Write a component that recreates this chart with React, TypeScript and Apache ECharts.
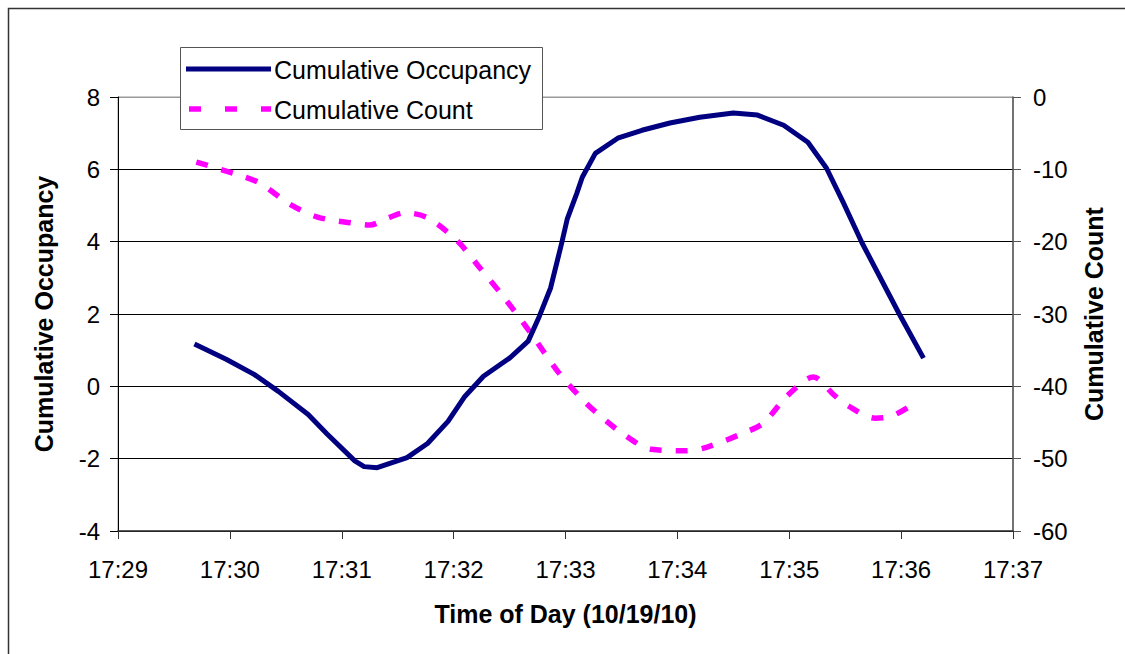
import React, { useEffect, useRef } from "react";
import * as echarts from "echarts";

const occTimes = [
  "17:29:41", "17:29:58", "17:30:13", "17:30:26", "17:30:42", "17:30:52", "17:31:07", "17:31:12",
  "17:31:19", "17:31:35", "17:31:46", "17:31:57", "17:32:06", "17:32:16", "17:32:30", "17:32:40",
  "17:32:46", "17:32:52", "17:32:58", "17:33:01", "17:33:06", "17:33:09", "17:33:16", "17:33:28",
  "17:33:41", "17:33:56", "17:34:12", "17:34:30", "17:34:43", "17:34:57", "17:35:10", "17:35:20",
  "17:35:29", "17:35:39", "17:35:59", "17:36:12",
];
const occValues = [
  1.17, 0.75, 0.33, -0.14, -0.78, -1.31, -2.06, -2.22, -2.25, -1.97, -1.58, -0.97, -0.28, 0.28, 0.78, 1.25,
  1.94, 2.72, 3.97, 4.64, 5.33, 5.78, 6.44, 6.86, 7.08, 7.28, 7.44, 7.56, 7.5, 7.22, 6.75, 6.03, 5.08, 3.97,
  2.0, 0.78,
];

const countTimes = [
  "17:29:42", "17:30:05", "17:30:16", "17:30:32", "17:30:47", "17:31:05", "17:31:15", "17:31:25",
  "17:31:34", "17:31:46", "17:32:02", "17:32:14", "17:32:27", "17:32:41", "17:32:56", "17:33:09",
  "17:33:16", "17:33:31", "17:33:46", "17:34:05", "17:34:16", "17:34:35", "17:34:46", "17:34:59",
  "17:35:13", "17:35:24", "17:35:31", "17:35:46", "17:35:55", "17:36:05",
];
const countValues = [
  -9.0, -10.8, -11.9, -14.8, -16.6, -17.4, -17.7, -16.7, -16.0, -16.7, -19.9, -23.6, -27.7, -32.5, -38.0,
  -41.8, -43.5, -46.6, -48.7, -48.9, -48.4, -46.5, -45.1, -41.3, -38.7, -41.2, -42.6, -44.4, -44.1, -42.7,
];

const xRange = ["17:29", "17:37"];
const seriesNames = ["Cumulative Occupancy", "Cumulative Count"];
const axisTitles = { x: "Time of Day (10/19/10)", left: "Cumulative Occupancy", right: "Cumulative Count" };

function toMin(s: string): number {
  const p = s.split(":").map(Number);
  return p[0] * 60 + p[1] + (p[2] || 0) / 60;
}
function fmt(v: number): string {
  const h = Math.floor(v / 60);
  const m = Math.round(v - h * 60);
  return `${h}:${m < 10 ? "0" + m : m}`;
}

const FONT = "'Liberation Sans', Arial, sans-serif";
const NAVY = "#000080";
const MAGENTA = "#FF00FF";

export default function App() {
  const ref = useRef<HTMLDivElement>(null);
  useEffect(() => {
    if (!ref.current) return;
    const chart = echarts.init(ref.current, null, { renderer: "svg" });
    const occData = occTimes.map((t, i) => [toMin(t), occValues[i]]);
    const countData = countTimes.map((t, i) => [toMin(t), countValues[i]]);
    const labelStyle = { color: "#000", fontSize: 24, fontFamily: FONT };
    const nameStyle = { color: "#000", fontSize: 25, fontWeight: "bold" as const, fontFamily: FONT };
    chart.setOption({
      animation: false,
      backgroundColor: "#fff",
      grid: {
        left: 118,
        right: 112,
        top: 97,
        bottom: 123,
        show: true,
        borderColor: "#999",
        borderWidth: 1,
        backgroundColor: "transparent",
      },
      xAxis: {
        type: "value",
        min: toMin(xRange[0]),
        max: toMin(xRange[1]),
        interval: 1,
        name: axisTitles.x,
        nameLocation: "middle",
        nameGap: 70,
        nameTextStyle: nameStyle,
        axisLine: { show: true, onZero: false, lineStyle: { color: "#333", width: 1.5 } },
        axisTick: { show: true, inside: false, length: 8, lineStyle: { color: "#333" } },
        axisLabel: { ...labelStyle, margin: 26, formatter: (v: number) => fmt(v) },
        splitLine: { show: false },
      },
      yAxis: [
        {
          type: "value",
          min: -4,
          max: 8,
          interval: 2,
          position: "left",
          name: axisTitles.left,
          nameLocation: "middle",
          nameRotate: 90,
          nameGap: 62,
          nameTextStyle: nameStyle,
          axisLine: { show: true, onZero: false, lineStyle: { color: "#000", width: 1 } },
          axisTick: { show: true, length: 8, lineStyle: { color: "#000" } },
          axisLabel: { ...labelStyle, margin: 18 },
          splitLine: {
            show: true,
            lineStyle: { color: ["#000", "#000", "#000", "#000", "#000", "#000", "#999"], width: 1 },
          },
        },
        {
          type: "value",
          min: -60,
          max: 0,
          interval: 10,
          position: "right",
          name: axisTitles.right,
          nameLocation: "middle",
          nameRotate: 90,
          nameGap: 68,
          nameTextStyle: nameStyle,
          axisLine: { show: true, onZero: false, lineStyle: { color: "#555", width: 1.5 } },
          axisTick: { show: true, length: 8, lineStyle: { color: "#555" } },
          axisLabel: { ...labelStyle, margin: 20 },
          splitLine: { show: false },
        },
      ],
      series: [
        {
          name: seriesNames[0],
          type: "line",
          yAxisIndex: 0,
          data: occData,
          showSymbol: false,
          smooth: false,
          lineStyle: { color: NAVY, width: 5, join: "round" },
          z: 3,
        },
        {
          name: seriesNames[1],
          type: "line",
          yAxisIndex: 1,
          data: countData,
          showSymbol: false,
          smooth: 0.3,
          lineStyle: { color: MAGENTA, width: 5.5, type: [12, 14], cap: "butt" },
          z: 2,
        },
      ],
      graphic: [
        {
          type: "rect",
          shape: { x: 8.5, y: 8.5, width: 1300, height: 800 },
          style: { fill: "none", stroke: "#333", lineWidth: 1.5 },
          silent: true,
          z: 0,
        },
        {
          type: "rect",
          shape: { x: 180.5, y: 47.5, width: 362, height: 82 },
          style: { fill: "#fff", stroke: "#555", lineWidth: 1 },
          z: 10,
        },
        {
          type: "line",
          shape: { x1: 186, y1: 69, x2: 271, y2: 69 },
          style: { stroke: NAVY, lineWidth: 5 },
          z: 11,
        },
        {
          type: "text",
          x: 274,
          y: 70,
          style: {
            text: seriesNames[0],
            fill: "#000",
            font: `25px ${FONT}`,
            textVerticalAlign: "middle",
          },
          z: 11,
        },
        {
          type: "line",
          shape: { x1: 189, y1: 109, x2: 271, y2: 109 },
          style: { stroke: MAGENTA, lineWidth: 5.5, lineDash: [12, 24] },
          z: 11,
        },
        {
          type: "text",
          x: 274,
          y: 110,
          style: {
            text: seriesNames[1],
            fill: "#000",
            font: `25px ${FONT}`,
            textVerticalAlign: "middle",
          },
          z: 11,
        },
      ],
    });
    return () => chart.dispose();
  }, []);
  return (
    <div
      ref={ref}
      style={{ position: "absolute", left: 0, top: 0, width: 1125, height: 654, background: "#fff" }}
    />
  );
}
